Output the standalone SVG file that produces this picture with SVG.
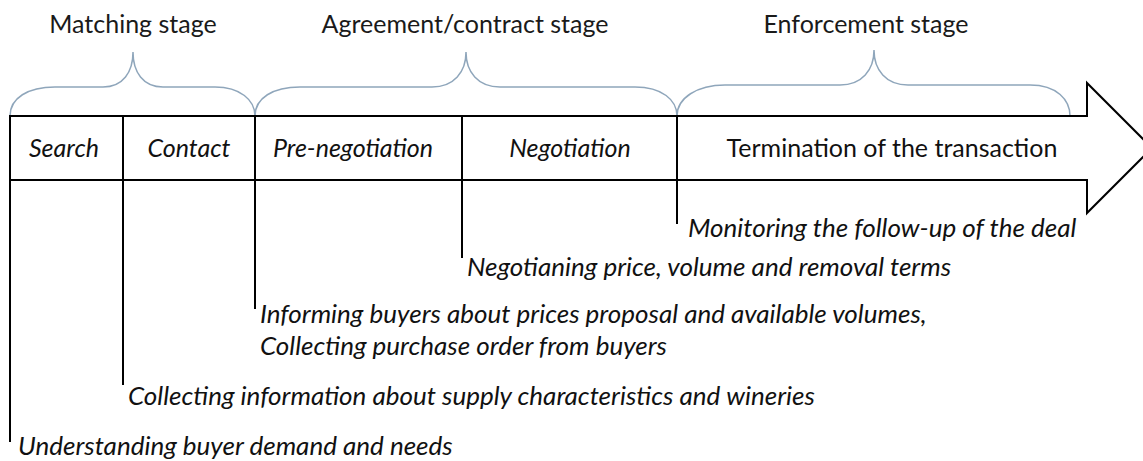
<svg xmlns="http://www.w3.org/2000/svg" width="1143" height="461" viewBox="0 0 1143 461">
<style>
.stage{font-family:Lato,"Liberation Sans",sans-serif;font-size:25px;fill:#1a1a1a;text-anchor:middle}
.cell{font-family:Lato,"Liberation Sans",sans-serif;font-size:25px;fill:#111;text-anchor:middle}
.it{font-style:italic}
.note{font-family:Lato,"Liberation Sans",sans-serif;font-size:26px;font-style:italic;fill:#111}
.brace{fill:none;stroke:#8fa6bb;stroke-width:1.5}
.ln{stroke:#000;stroke-width:2;fill:none}
</style>
<rect width="1143" height="461" fill="#fff"/>
<g id="stages">
<text class="stage" x="133" y="33">Matching stage</text>
<text class="stage" x="465" y="33">Agreement/contract stage</text>
<text class="stage" x="866" y="33">Enforcement stage</text>
</g>
<g id="braces">
<path class="brace" d="M10,116 C10,98 28,87 55,87 L103,87 C123,87 133,72 133,52 C133,72 143,87 163,87 L215,87 C240,87 255,100 255,116"/>
<path class="brace" d="M255,116 C255,98 273,87 300,87 L432,87 C454,87 466,72 466,52 C466,72 478,87 500,87 L635,87 C662,87 677,100 677,116"/>
<path class="brace" d="M677,116 C677,98 697,85 725,85 L840,85 C862,85 874,70 874,50 C874,70 886,85 908,85 L1030,85 C1057,85 1070,100 1070,116"/>
</g>
<g id="arrow">
<path class="ln" stroke-width="2.5" d="M10,116 H1087 V83 L1152,148 L1087,213 V180 H10 Z"/>
</g>
<g id="cells">
<line class="ln" x1="123" y1="116" x2="123" y2="180"/>
<line class="ln" x1="255" y1="116" x2="255" y2="180"/>
<line class="ln" x1="462" y1="116" x2="462" y2="180"/>
<line class="ln" x1="677" y1="116" x2="677" y2="180"/>
<text class="cell it" x="64" y="157">Search</text>
<text class="cell it" x="189" y="157">Contact</text>
<text class="cell it" x="353" y="157">Pre-negotiation</text>
<text class="cell it" x="570" y="157">Negotiation</text>
<text class="cell" x="892" y="157">Termination of the transaction</text>
</g>
<g id="connectors">
<line class="ln" x1="10" y1="180" x2="10" y2="442"/>
<line class="ln" x1="123" y1="180" x2="123" y2="385"/>
<line class="ln" x1="255" y1="180" x2="255" y2="309"/>
<line class="ln" x1="462" y1="180" x2="462" y2="258"/>
<line class="ln" x1="677" y1="180" x2="677" y2="224"/>
</g>
<g id="notes">
<text class="note" x="688" y="237">Monitoring the follow-up of the deal</text>
<text class="note" x="467" y="276">Negotianing price, volume and removal terms</text>
<text class="note" x="260" y="323">Informing buyers about prices proposal and available volumes,</text>
<text class="note" x="260" y="355">Collecting purchase order from buyers</text>
<text class="note" x="128" y="405">Collecting information about supply characteristics and wineries</text>
<text class="note" x="18" y="455">Understanding buyer demand and needs</text>
</g>
</svg>
